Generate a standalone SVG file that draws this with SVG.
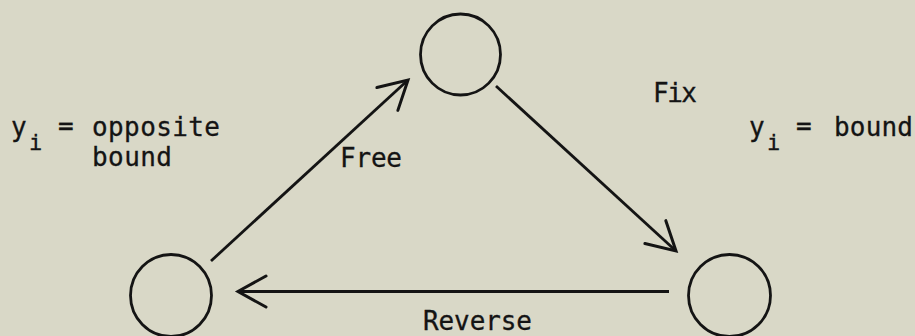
<svg xmlns="http://www.w3.org/2000/svg" width="915" height="336" viewBox="0 0 915 336">
<style>
.bg{fill:#d9d8c7}
.node{fill:none;stroke:#141414;stroke-width:2.8}
.edge{fill:none;stroke:#141414;stroke-width:2.8;marker-end:url(#v)}
text{font-family:"DejaVu Sans Mono","Liberation Mono",monospace;font-size:26px;fill:#141414;stroke:#141414;stroke-width:0.3}
.sub{font-size:22px}
</style>
<defs>
<marker id="v" markerUnits="userSpaceOnUse" markerWidth="40" markerHeight="40" viewBox="-32 -20 40 40" refX="0" refY="0" orient="auto" overflow="visible">
<path d="M-28,-15.5 L0,0 L-28,15.5" fill="none" stroke="#141414" stroke-width="3" stroke-linecap="round" stroke-linejoin="miter"/>
</marker>
</defs>
<rect class="bg" x="0" y="0" width="915" height="336"/>
<g id="node-top"><ellipse class="node" cx="460.5" cy="54.5" rx="40" ry="40.5"/></g>
<g id="node-left"><ellipse class="node" cx="171" cy="295.5" rx="40.5" ry="41"/></g>
<g id="node-right"><ellipse class="node" cx="729.5" cy="295.5" rx="41" ry="41"/></g>
<g id="connectors">
<line class="edge" x1="211" y1="261" x2="408" y2="80"/>
<line class="edge" x1="496" y1="86" x2="676" y2="251"/>
<line class="edge" x1="669" y1="291.5" x2="238" y2="291.5"/>
</g>
<g id="labels">
<text x="340" y="167" textLength="62" lengthAdjust="spacing">Free</text>
<text x="653" y="102" textLength="44" lengthAdjust="spacing">Fix</text>
<text x="423" y="330" textLength="109" lengthAdjust="spacing">Reverse</text>
<text x="11" y="136">y</text>
<text class="sub" x="29" y="150">i</text>
<text x="58" y="135">=</text>
<text x="92" y="136" textLength="128" lengthAdjust="spacing">opposite</text>
<text x="92" y="166" textLength="80" lengthAdjust="spacing">bound</text>
<text x="749" y="136">y</text>
<text class="sub" x="767" y="150">i</text>
<text x="796" y="135">=</text>
<text x="834" y="136" textLength="79" lengthAdjust="spacing">bound</text>
</g>
</svg>
